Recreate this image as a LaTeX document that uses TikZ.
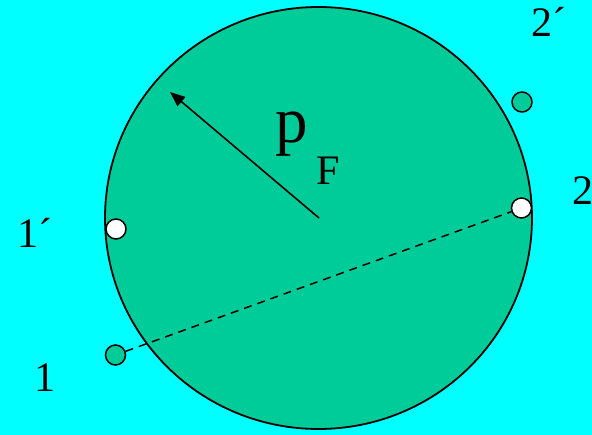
\documentclass[tikz,border=0pt]{standalone}
\usepackage{fontspec}
\setmainfont{Liberation Serif}
\usetikzlibrary{arrows.meta}
\definecolor{bgcyan}{HTML}{00FFFF}
\definecolor{fermi}{HTML}{00CC99}
\begin{document}
\begin{tikzpicture}[x=1pt,y=-1pt,
  pt/.style={circle,draw=black,line width=1.5pt,minimum size=20pt,inner sep=0pt},
  lbl/.style={inner sep=0pt,anchor=base west,font=\fontsize{42}{42}\selectfont}]
\fill[bgcyan] (0,0) rectangle (592,435);
\useasboundingbox (0,0) rectangle (592,435);
\draw[fill=fermi,line width=1.8pt] (318.5,218) ellipse [x radius=213.5, y radius=211];
\coordinate (c) at (319,218);
\coordinate (tip) at (170,92);
\draw[line width=1.6pt,-{Triangle[length=15pt,width=12pt]}] (c) -- (tip);
\node[pt,fill=white] (p1p) at (116,229) {};
\node[pt,fill=white] (p2) at (521.5,208) {};
\node[pt,fill=fermi] (p2p) at (522,102) {};
\node[pt,fill=fermi] (p1) at (115.5,355) {};
\draw[line width=1.5pt,dash pattern=on 8pt off 6pt] (p1) -- (p2);
\node[lbl] (l1) at (34,392) {1};
\node[lbl] (l1p) at (17.5,248) {1´};
\node[lbl] (l2p) at (531,37) {2´};
\node[lbl] (l2) at (572,205) {2};
\node[inner sep=0pt,anchor=base west,font=\fontsize{65}{65}\selectfont] (pp) at (275,143) {p};
\node[lbl] (pF) at (316,185) {F};
\end{tikzpicture}
\end{document}
